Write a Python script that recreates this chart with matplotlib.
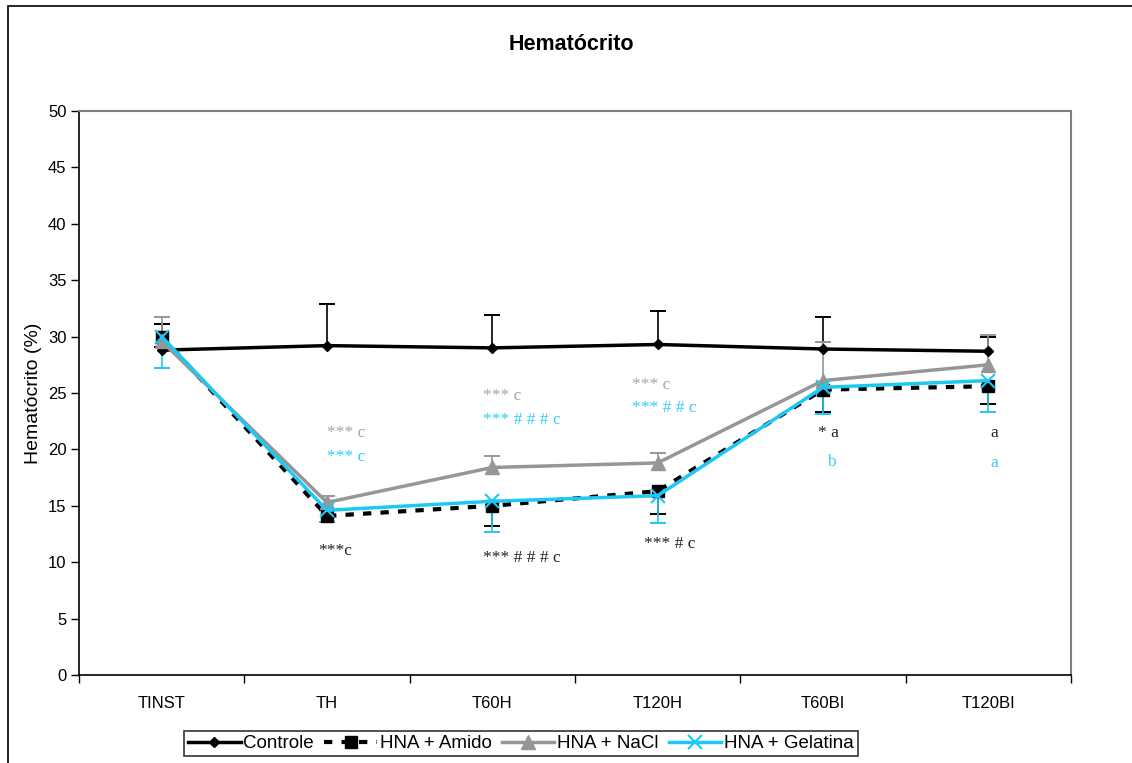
import matplotlib
matplotlib.use("Agg")
import matplotlib.pyplot as plt
from matplotlib.patches import Rectangle
import numpy as np

categories = ["TINST", "TH", "T60H", "T120H", "T60BI", "T120BI"]

controle = [28.8, 29.2, 29.0, 29.3, 28.9, 28.7]
controle_err_up = [2.3, 3.7, 2.9, 3.0, 2.8, 1.3]

amido = [30.0, 14.1, 15.0, 16.3, 25.3, 25.6]
amido_err_down = [0.9, 0.5, 1.8, 2.0, 2.0, 1.6]

nacl = [29.6, 15.3, 18.4, 18.8, 26.1, 27.5]
nacl_err_up = [2.1, 0.6, 1.0, 0.9, 3.4, 2.6]

gelatina = [30.0, 14.6, 15.4, 15.9, 25.5, 26.1]
gelatina_err_down = [2.8, 1.0, 2.7, 2.4, 2.4, 2.8]

# annotations: (category position, y, text, group)
ann_x = [1.0, 1.0, 0.946, 1.944, 1.944, 1.944, 2.845, 2.845, 2.918, 3.97, 4.025, 5.01, 5.01]
ann_y = [21.45, 19.3, 11.0, 24.7, 22.6, 10.4, 25.7, 23.7, 11.6, 21.45, 18.9, 21.45, 18.8]
ann_text = ["*** c", "*** c", "***c", "*** c", "*** # # # c", "*** # # # c",
            "*** c", "*** # # c", "*** # c", "* a", "b", "a", "a"]
ann_group = ["nacl", "gel", "amido", "nacl", "gel", "amido",
             "nacl", "gel", "amido", "amido", "gel", "amido", "gel"]

C_BLACK = "#000000"
C_GRAY = "#969696"
C_CYAN = "#1EC8F5"
text_colors = {"nacl": "#A6A6A6", "gel": "#33CCFF", "amido": "#222222"}

plt.rcParams['font.family'] = ['Liberation Sans', 'DejaVu Sans']

fig = plt.figure(figsize=(11.32, 7.63), dpi=100)
# outer chart border (only left/top visible in the reference)
fig.patches.append(Rectangle((8/1132, -0.05), 1.2, 1 - 6/763 + 0.05, transform=fig.transFigure,
                             fill=False, edgecolor="black", linewidth=1.2))

ax = fig.add_axes([79/1132, 88/763, (1071-79)/1132, (675-111)/763])
x = np.arange(len(categories))

ax.plot(x, controle, color=C_BLACK, lw=2.5, marker="D", ms=5.5, zorder=3, label="Controle")
ax.plot(x, amido, color=C_BLACK, lw=3, ls=(0, (2, 2.2)), marker="s", ms=9, zorder=4, label="HNA + Amido")
ax.plot(x, nacl, color=C_GRAY, lw=2.5, marker="^", ms=10, zorder=5, label="HNA + NaCl")
ax.plot(x, gelatina, color=C_CYAN, lw=2.5, marker="x", ms=10, mew=1.5, zorder=6, label="HNA + Gelatina")

def ebar(xv, yv, err, sign, color, z):
    yv = np.asarray(yv); err = np.asarray(err)
    ends = yv + sign * err
    ax.vlines(xv, yv, ends, color=color, lw=1.2, zorder=z)
    ax.plot(xv, ends, ls="none", marker="_", ms=11, mew=1.4, color=color, zorder=z)

ebar(x, controle, controle_err_up, +1, C_BLACK, 2.5)
ebar(x, amido, amido_err_down, -1, C_BLACK, 2.5)
ebar(x, nacl, nacl_err_up, +1, C_GRAY, 2.6)
ebar(x, gelatina, gelatina_err_down, -1, C_CYAN, 2.7)

for tx, ty, tt, tg in zip(ann_x, ann_y, ann_text, ann_group):
    ax.text(tx, ty, tt, color=text_colors[tg], fontsize=12.5, family="Liberation Serif",
            ha="left", va="center", zorder=7)

ax.set_xlim(-0.5, 5.5)
ax.set_ylim(0, 50)
ax.set_yticks(np.arange(0, 51, 5))
ax.set_xticks(x)
ax.set_xticklabels(categories)
ax.set_xticks(np.arange(-0.5, 5.6, 1), minor=True)
ax.tick_params(axis="x", which="major", length=0, pad=15, labelsize=12)
ax.tick_params(axis="x", which="minor", length=6, width=1, direction="out")
ax.tick_params(axis="y", length=6, width=1, direction="out", pad=3, labelsize=12)

for s in ["left", "bottom"]:
    ax.spines[s].set_color("black")
    ax.spines[s].set_linewidth(1.2)
for s in ["top", "right"]:
    ax.spines[s].set_color("#808080")
    ax.spines[s].set_linewidth(1.5)

fig.text(33/1132, 1 - 393/763, "Hematócrito (%)", rotation=90, ha="center", va="center",
         fontsize=14)
fig.text(571/1132, 1 - 44/763, "Hematócrito", ha="center", va="center",
         fontsize=15.5, fontweight="bold")

leg = fig.legend(loc="center", bbox_to_anchor=(521/1132, 1 - 743.5/763), ncol=4,
                 frameon=True, fancybox=False, handlelength=2.8,
                 handletextpad=0.15, columnspacing=0.55, borderpad=0.2,
                 borderaxespad=0, prop={'size': 13.5})
leg.get_frame().set_edgecolor("black")
leg.get_frame().set_linewidth(1.2)

fig.savefig("out.png", dpi=100)
